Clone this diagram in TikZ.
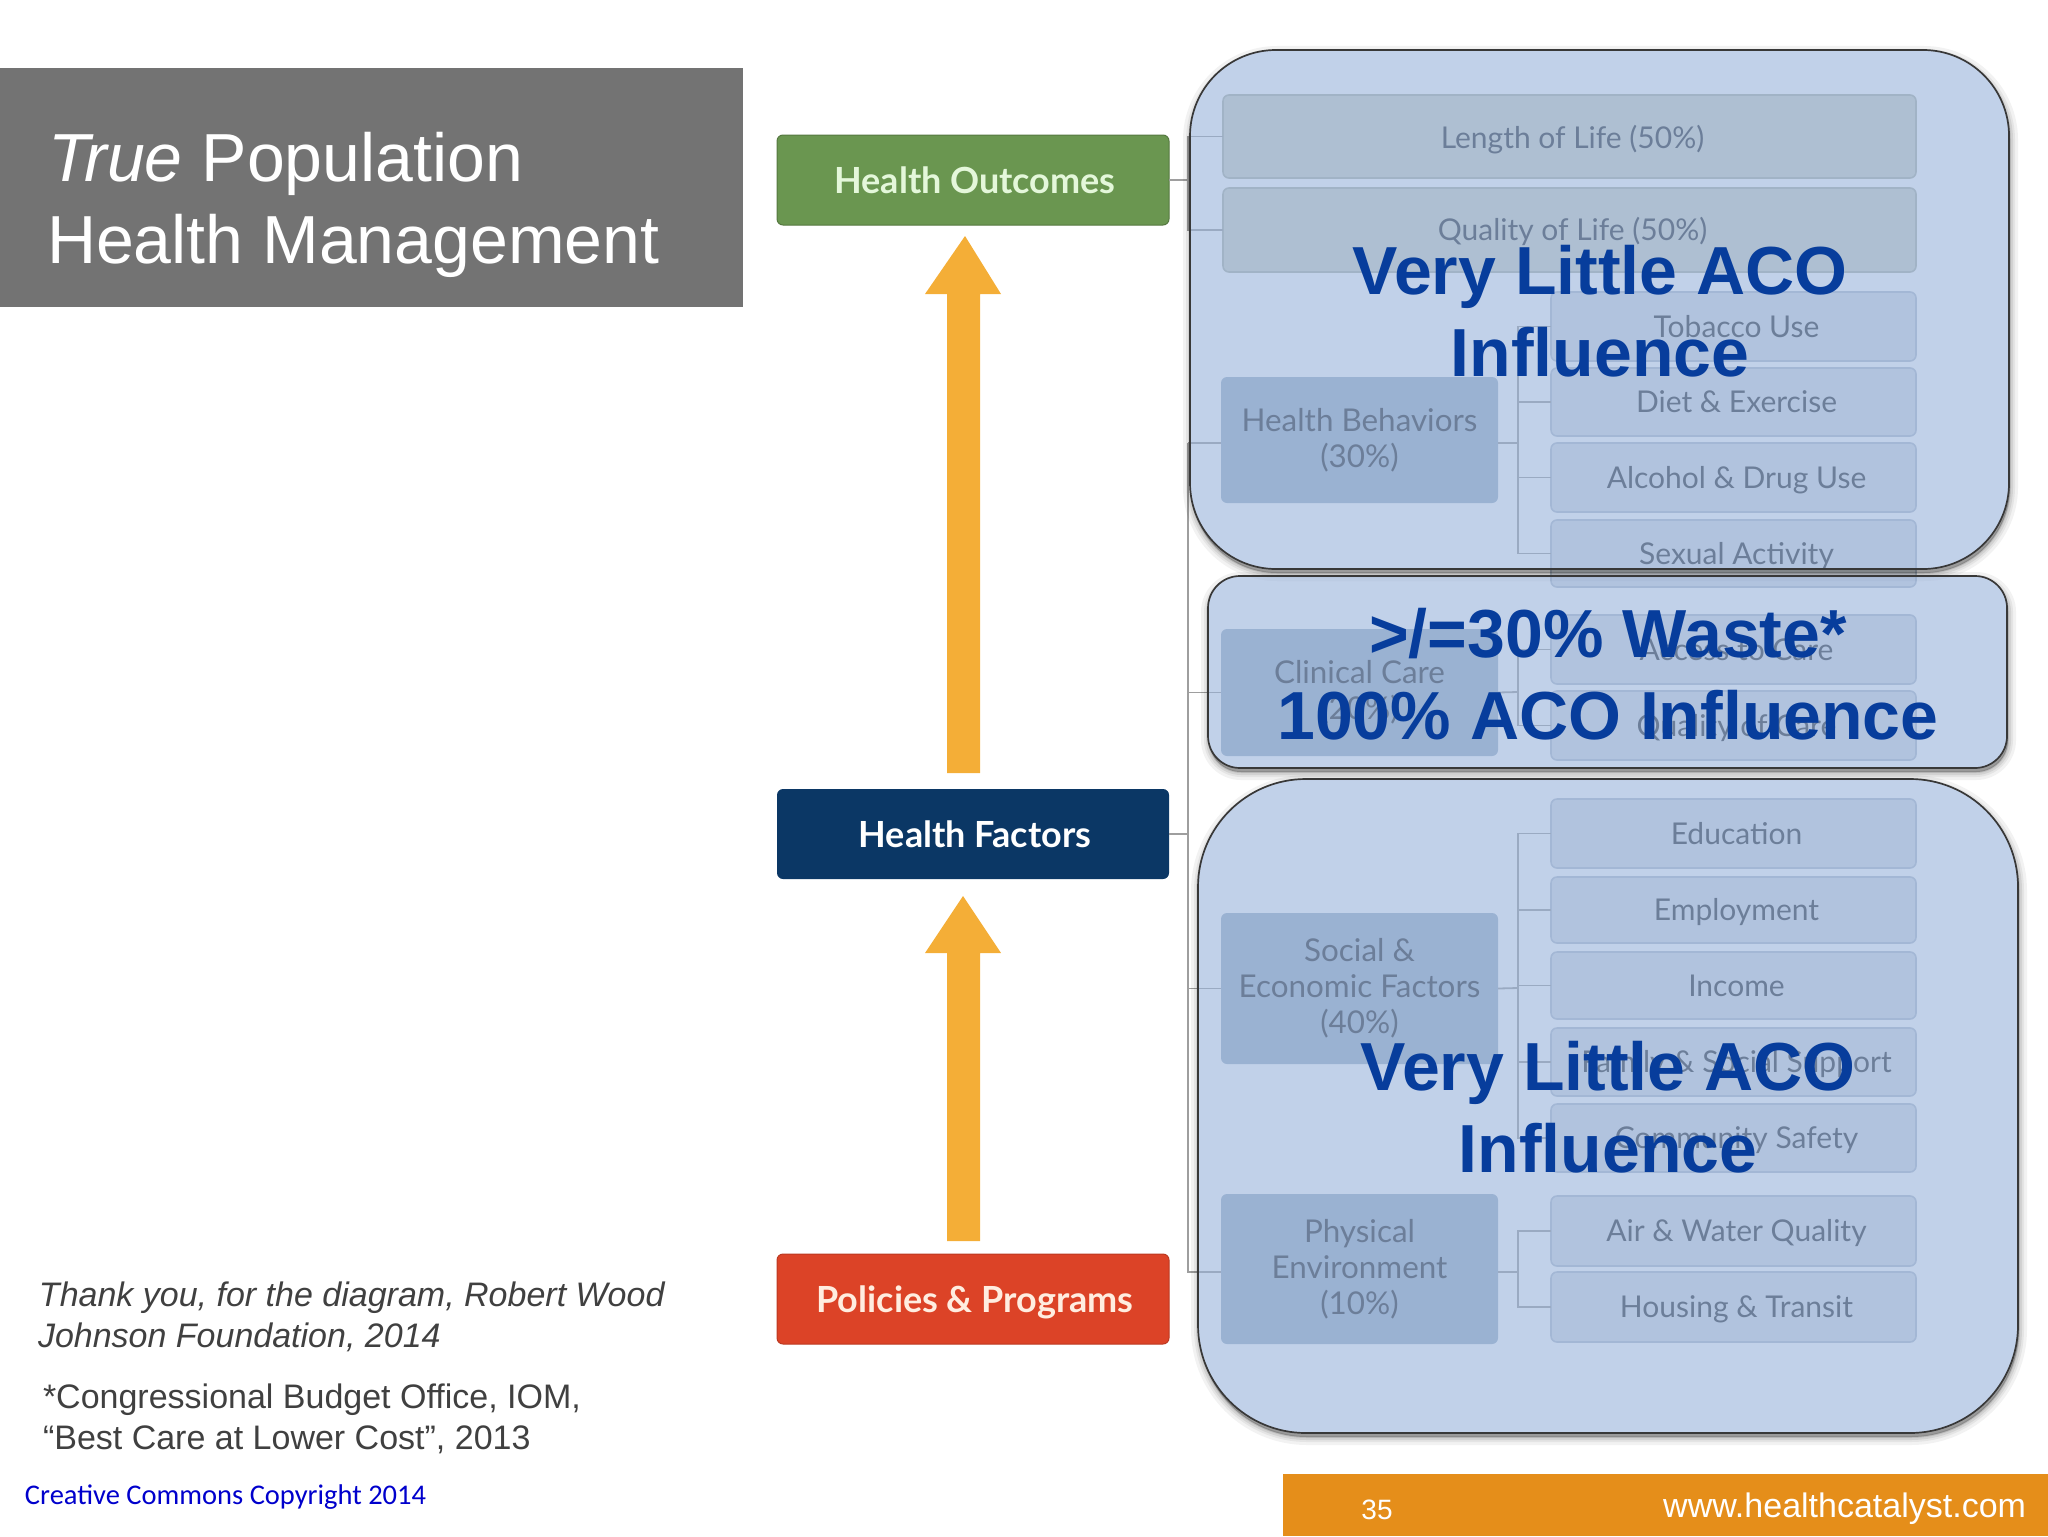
\documentclass[tikz,border=0pt]{standalone}
\usepackage{fontspec}
\setmainfont{Liberation Sans}
\newfontfamily\latofont{Lato}
\newfontfamily\carlitofont{Carlito}
\usetikzlibrary{arrows.meta}
\definecolor{panelblue}{HTML}{98B2DA}
\definecolor{itemfill}{HTML}{D7DEE6}
\definecolor{itemdraw}{HTML}{B4C0CE}
\definecolor{topfill}{HTML}{CFD4C8}
\definecolor{topdraw}{HTML}{B0B6AA}
\definecolor{groupfill}{HTML}{9DB2C8}
\definecolor{difftext}{HTML}{2B3138}
\definecolor{acoblue}{HTML}{073D9C}
\definecolor{arrowor}{HTML}{F4AE37}
\definecolor{HOg}{HTML}{6A9650}
\definecolor{HOt}{HTML}{E4F7DA}
\definecolor{HFb}{HTML}{0B3765}
\definecolor{PPr}{HTML}{DC4327}
\definecolor{PPt}{HTML}{FFEDE0}
\definecolor{copyblue}{HTML}{0000CC}
\definecolor{footor}{HTML}{E58E1A}
\newcommand{\boxnode}[7]{\node[#1, minimum width={(#5-#3)*0.5pt}, minimum height={(#6-#4)*0.5pt}] (#2) at ({(#3+#5)/2},{(#4+#6)/2}) {#7};}
\newcommand{\panelshadow}[5]{%
 \begin{scope}[even odd rule, rounded corners=#5*0.5pt]
 \clip (-200,-200) rectangle (2248,1736) (#1,#2) rectangle (#3,#4);
 \foreach \w/\o in {16/.05,10/.06,6/.08,2/.10}{
   \draw[black, opacity=\o, line width=\w*0.5pt, fill=black, fill opacity=\o] (#1+1,#2+4) rectangle (#3+1,#4+4);
 }
 \end{scope}}
\tikzset{
 every node/.style={inner sep=0pt, outer sep=0pt},
 lvlbox/.style={rounded corners=3pt, line width=.5pt, text height=13pt, text depth=0pt, font=\latofont\bfseries\fontsize{18}{22}\selectfont, execute at begin node={\hspace*{2pt}}},
 itembox/.style={rounded corners=3pt, draw=itemdraw, line width=.8pt, fill=itemfill, text=difftext, text height=11pt, text depth=0.5pt, font=\latofont\fontsize{15}{18}\selectfont, execute at begin node={\hspace*{3pt}}},
 topbox/.style={itembox, draw=topdraw, fill=topfill},
 groupbox/.style={rounded corners=3pt, fill=groupfill, text=difftext, align=center, font=\latofont\fontsize{15.7}{18}\selectfont},
 conn/.style={draw=black!38, line width=.9pt},
 panel/.style={draw=black!78, line width=.85pt, fill=panelblue, fill opacity=.6, text opacity=1},
 upar/.style={fill=arrowor},
 bigtext/.style={text=acoblue, align=center, font=\bfseries\fontsize{34}{41}\selectfont},
 note/.style={anchor=base west, text=black!75, font=\fontsize{17}{20}\selectfont},
}
\begin{document}
\begin{tikzpicture}[x=0.5pt,y=-0.5pt]
\useasboundingbox (0,0) rectangle (2048,1536);
% title
\boxnode{fill=black!55}{titlebox}{0}{68}{743}{307}{}
\node[anchor=base west, text=white, font=\fontsize{34}{41}\selectfont] (title1) at (48,181) {\textit{True} Population};
\node[anchor=base west, text=white, font=\fontsize{34}{41}\selectfont] (title2) at (47,263) {Health Management};
% level boxes
\boxnode{lvlbox, fill=HOg, draw=HOg!80!black, text=HOt}{ho}{777}{135}{1169}{225}{Health Outcomes}
\boxnode{lvlbox, fill=HFb, text=white}{hf}{777}{789}{1169}{879}{Health Factors}
\boxnode{lvlbox, fill=PPr, draw=PPr!85!black, text=PPt}{pp}{777}{1254}{1169}{1344}{Policies \& Programs}
% orange arrows
\coordinate (a1tip) at (965,236);
\coordinate (a2tip) at (963,896);
\fill[upar] (a1tip) -- (1001,294) -- (980,294) -- (980,773) -- (947,773) -- (947,294) -- (925,294) -- cycle;
\fill[upar] (a2tip) -- (1001,953) -- (980,953) -- (980,1241) -- (947,1241) -- (947,953) -- (925,953) -- cycle;
% outcome boxes
\boxnode{topbox, text height=14pt, text depth=2pt}{lol}{1223}{95}{1916}{178}{Length of Life (50\%)}
\boxnode{topbox}{qol}{1223}{188}{1916}{272}{Quality of Life (50\%)}
% groups
\boxnode{groupbox}{hb}{1221}{377}{1498}{503}{Health Behaviors\\(30\%)}
\boxnode{groupbox}{cc}{1221}{629}{1498}{756}{Clinical Care\\(20\%)}
\boxnode{groupbox}{se}{1221}{913}{1498}{1064}{Social \&\\Economic Factors\\(40\%)}
\boxnode{groupbox}{pe}{1221}{1194}{1498}{1344}{Physical\\Environment\\(10\%)}
% items
\boxnode{itembox}{tob}{1551}{292}{1916}{361}{Tobacco Use}
\boxnode{itembox}{die}{1551}{368}{1916}{436}{Diet \& Exercise}
\boxnode{itembox}{alc}{1551}{443}{1916}{512}{Alcohol \& Drug Use}
\boxnode{itembox}{sex}{1551}{520}{1916}{587}{Sexual Activity}
\boxnode{itembox}{acc}{1551}{615}{1916}{684}{Access to Care}
\boxnode{itembox}{qoc}{1551}{691}{1916}{760}{Quality of Care}
\boxnode{itembox}{edu}{1551}{799}{1916}{868}{Education}
\boxnode{itembox}{emp}{1551}{877}{1916}{943}{Employment}
\boxnode{itembox}{inc}{1551}{952}{1916}{1019}{Income}
\boxnode{itembox}{fam}{1551}{1028}{1916}{1096}{Family \& Social Support}
\boxnode{itembox}{com}{1551}{1104}{1916}{1172}{Community Safety}
\boxnode{itembox}{air}{1551}{1196}{1916}{1266}{Air \& Water Quality}
\boxnode{itembox}{hou}{1551}{1272}{1916}{1342}{Housing \& Transit}
% connectors
\coordinate (jo) at (1188,180);
\coordinate (jt) at (1188,443);
\coordinate (jb) at (1518,443);
\coordinate (jc) at (1518,692);
\coordinate (js) at (1518,988);
\coordinate (jp) at (1518,1272);
\draw[conn] (ho.east) -- (jo);
\draw[conn] (lol.west) -| (jo);
\draw[conn] (qol.west) -| (jo);
\draw[conn] (hb.west |- jt) -- (jt);
\draw[conn] (pe.west |- jp) -| (jt);
\draw[conn] (cc.west) -- (cc.west -| jt);
\draw[conn] (se.west) -- (se.west -| jt);
\draw[conn] (hf.east) -- (hf.east -| jt);
\draw[conn] (hb.east |- jb) -- (jb);
\foreach \n in {tob,die,alc,sex}{\draw[conn] (\n.west) -| (jb);}
\draw[conn] (cc.east) -- (jc);
\foreach \n in {acc,qoc}{\draw[conn] (\n.west) -| (jc);}
\draw[conn] (se.east) -- (js);
\foreach \n in {edu,emp,inc,fam,com}{\draw[conn] (\n.west) -| (js);}
\draw[conn] (pe.east |- jp) -- (jp);
\foreach \n in {air,hou}{\draw[conn] (\n.west) -| (jp);}
% overlay panels
\panelshadow{1190}{50}{2009}{569}{86}
\panelshadow{1208}{576}{2007}{768}{32}
\panelshadow{1198}{779}{2018}{1433}{108}
\boxnode{panel, rounded corners=43pt}{p1}{1190}{50}{2009}{569}{}
\boxnode{panel, rounded corners=16pt}{p2}{1208}{576}{2007}{768}{}
\boxnode{panel, rounded corners=54pt}{p3}{1198}{779}{2018}{1433}{}
\node[bigtext] (t1) at (1600,311) {Very Little ACO\\Influence};
\node[bigtext] (t2) at (1608,674) {>/=30\% Waste*\\100\% ACO Influence};
\node[bigtext] (t3) at (1608,1107) {Very Little ACO\\Influence};
% notes
\node[note, font=\itshape\fontsize{17}{20}\selectfont] (n1) at (39,1306) {Thank you, for the diagram, Robert Wood};
\node[note, font=\itshape\fontsize{17}{20}\selectfont] (n2) at (38,1347) {Johnson Foundation, 2014};
\node[note] (n3) at (43,1408) {*Congressional Budget Office, IOM,};
\node[note] (n4) at (43,1449) {“Best Care at Lower Cost”, 2013};
\node[anchor=base west, text=copyblue, font=\carlitofont\fontsize{14.25}{17}\selectfont] (cr) at (25,1504) {Creative Commons Copyright 2014};
% footer
\boxnode{fill=footor}{foot}{1283}{1474}{2048}{1536}{}
\node[anchor=base, text=white, font=\fontsize{14}{17}\selectfont] (pg) at (1377,1519) {35};
\node[anchor=base east, text=white, font=\fontsize{17}{20}\selectfont] (url) at (2026,1517) {www.healthcatalyst.com};
\end{tikzpicture}
\end{document}
